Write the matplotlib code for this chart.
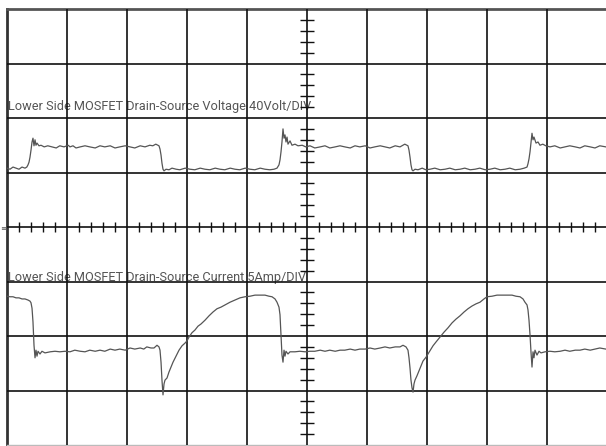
import matplotlib
matplotlib.use('Agg')
import matplotlib.pyplot as plt

# 示波器截图复刻：下管 MOSFET 漏源电压 / 电流波形
# 横轴单位: 格 (0~10)，纵轴单位: 格 (-4~4，中心为 0)

# 电压通道 (40Volt/DIV)
v_t = [0, 0.05, 0.10, 0.15, 0.20, 0.25, 0.30, 0.33,
       0.35, 0.367, 0.383, 0.40, 0.417, 0.433, 0.45, 0.467, 0.483, 0.50, 0.533, 0.567,
       0.62, 0.68, 0.75, 0.82, 0.88, 0.95, 1.02, 1.05, 1.10, 1.15, 1.22, 1.30, 1.38, 1.47,
       1.55, 1.63, 1.72, 1.80, 1.88, 1.97, 2.05, 2.13, 2.22, 2.30, 2.38, 2.43, 2.48,
       2.533, 2.55, 2.567, 2.583, 2.60, 2.617, 2.65,
       2.70, 2.75, 2.82, 2.88, 2.97, 3.05, 3.13, 3.22, 3.30, 3.38, 3.47, 3.55, 3.63, 3.72,
       3.80, 3.88, 3.97, 4.05, 4.13, 4.22, 4.30, 4.38, 4.45, 4.50,
       4.533, 4.55, 4.567, 4.583, 4.60, 4.617, 4.633, 4.65, 4.667, 4.683, 4.717, 4.75, 4.80,
       4.85, 4.92, 4.98, 5.05, 5.13, 5.22, 5.30, 5.38, 5.47, 5.55, 5.63, 5.72, 5.80, 5.88,
       5.97, 6.05, 6.13, 6.22, 6.30, 6.38, 6.47, 6.55, 6.60, 6.63,
       6.683, 6.70, 6.717, 6.733, 6.75, 6.767, 6.80,
       6.85, 6.92, 6.98, 7.05, 7.13, 7.22, 7.30, 7.38, 7.47, 7.55, 7.63, 7.72, 7.80, 7.88,
       7.97, 8.05, 8.13, 8.22, 8.30, 8.38, 8.47, 8.55, 8.62,
       8.667, 8.683, 8.70, 8.717, 8.733, 8.75, 8.767, 8.783, 8.817, 8.85, 8.883,
       8.93, 8.98, 9.05, 9.13, 9.22, 9.30, 9.38, 9.47, 9.55, 9.63, 9.72, 9.80, 9.88, 9.98]
v_div = [1.08, 1.06, 1.10, 1.08, 1.06, 1.10, 1.08, 1.10,
         1.14, 1.19, 1.28, 1.41, 1.56, 1.63, 1.49, 1.60, 1.50, 1.54, 1.49, 1.50,
         1.47, 1.49, 1.47, 1.45, 1.49, 1.47, 1.50, 1.47, 1.49, 1.45, 1.47, 1.49, 1.47, 1.45,
         1.49, 1.47, 1.49, 1.45, 1.47, 1.49, 1.47, 1.45, 1.49, 1.47, 1.50, 1.49, 1.52,
         1.49, 1.43, 1.32, 1.17, 1.06, 1.03, 1.06,
         1.05, 1.08, 1.06, 1.05, 1.08, 1.06, 1.05, 1.08, 1.06, 1.05, 1.08, 1.06, 1.05, 1.08,
         1.06, 1.05, 1.08, 1.06, 1.05, 1.08, 1.06, 1.05, 1.06, 1.08,
         1.14, 1.23, 1.38, 1.56, 1.80, 1.63, 1.69, 1.56, 1.65, 1.52, 1.58, 1.50, 1.52,
         1.49, 1.50, 1.47, 1.49, 1.45, 1.47, 1.49, 1.45, 1.47, 1.49, 1.47, 1.45, 1.49, 1.47,
         1.49, 1.45, 1.47, 1.49, 1.47, 1.45, 1.49, 1.47, 1.50, 1.52,
         1.49, 1.41, 1.28, 1.14, 1.05, 1.03, 1.06,
         1.05, 1.08, 1.05, 1.06, 1.08, 1.05, 1.06, 1.08, 1.05, 1.06, 1.08, 1.05, 1.06, 1.08,
         1.05, 1.06, 1.08, 1.05, 1.06, 1.08, 1.05, 1.06, 1.08,
         1.10, 1.16, 1.25, 1.38, 1.54, 1.72, 1.60, 1.65, 1.54, 1.56, 1.50,
         1.52, 1.49, 1.47, 1.49, 1.45, 1.47, 1.49, 1.47, 1.45, 1.49, 1.47, 1.45, 1.49, 1.47]

# 电流通道 (5Amp/DIV)
i_t = [0, 0.05, 0.10, 0.15, 0.20, 0.25, 0.30, 0.35, 0.383,
       0.40, 0.417, 0.433, 0.45, 0.467, 0.483, 0.50, 0.517, 0.55, 0.583, 0.633,
       0.72, 0.80, 0.88, 0.97, 1.05, 1.13, 1.22, 1.30, 1.38, 1.47, 1.55, 1.63, 1.72, 1.80,
       1.88, 1.97, 2.05, 2.13, 2.22, 2.28, 2.33, 2.40,
       2.45, 2.50, 2.533, 2.55, 2.567, 2.583, 2.60, 2.617, 2.633, 2.667, 2.70, 2.733, 2.767,
       2.817, 2.867, 2.917, 2.967, 3.00, 3.033, 3.083, 3.133, 3.183, 3.233, 3.30, 3.367,
       3.433, 3.50, 3.567, 3.633, 3.717, 3.80, 3.883, 3.967, 4.05, 4.133, 4.217, 4.30,
       4.367, 4.417, 4.467, 4.50, 4.533, 4.55, 4.567, 4.583, 4.60, 4.617, 4.633, 4.65,
       4.683, 4.717,
       4.80, 4.88, 4.97, 5.05, 5.13, 5.22, 5.30, 5.38, 5.47, 5.55, 5.63, 5.72, 5.80, 5.88,
       5.97, 6.05, 6.13, 6.22, 6.30, 6.38, 6.47, 6.55,
       6.60, 6.65, 6.683, 6.70, 6.717, 6.733, 6.75, 6.767, 6.783, 6.80, 6.833, 6.867, 6.90,
       6.933, 6.983, 7.017, 7.067, 7.10, 7.15, 7.217, 7.283, 7.35, 7.417, 7.483, 7.55,
       7.617, 7.683, 7.75, 7.817, 7.883, 7.95, 8.00, 8.083, 8.167, 8.25, 8.333, 8.417,
       8.483, 8.55, 8.60, 8.633, 8.667, 8.683, 8.70, 8.717, 8.733, 8.75, 8.767, 8.783,
       8.80, 8.833, 8.867, 8.90,
       8.967, 9.05, 9.13, 9.22, 9.30, 9.38, 9.47, 9.55, 9.63, 9.72, 9.80, 9.88, 9.98]
i_div = [-1.27, -1.28, -1.28, -1.30, -1.30, -1.32, -1.32, -1.34, -1.36,
         -1.39, -1.49, -1.74, -2.17, -2.40, -2.26, -2.37, -2.28, -2.33, -2.28, -2.31,
         -2.29, -2.28, -2.29, -2.28, -2.29, -2.26, -2.28, -2.29, -2.26, -2.28, -2.26, -2.28,
         -2.24, -2.26, -2.24, -2.26, -2.22, -2.24, -2.22, -2.24, -2.20, -2.22,
         -2.22, -2.17, -2.20, -2.26, -2.48, -2.81, -3.08, -2.88, -2.81, -2.77, -2.66, -2.57,
         -2.48, -2.37, -2.26, -2.18, -2.13, -2.09, -2.02, -1.94, -1.89, -1.82, -1.78, -1.71,
         -1.63, -1.56, -1.50, -1.47, -1.43, -1.38, -1.34, -1.30, -1.28, -1.27, -1.25, -1.25,
         -1.25, -1.27, -1.28, -1.32, -1.38, -1.47, -1.61, -1.98, -2.35, -2.48, -2.26, -2.37,
         -2.28, -2.33, -2.29,
         -2.29, -2.28, -2.29, -2.28, -2.28, -2.26, -2.28, -2.26, -2.28, -2.26, -2.26, -2.24,
         -2.26, -2.24, -2.24, -2.22, -2.24, -2.22, -2.20, -2.22, -2.20, -2.20,
         -2.17, -2.20, -2.26, -2.40, -2.59, -2.81, -2.95, -3.03, -2.88, -2.81, -2.73, -2.64,
         -2.55, -2.46, -2.39, -2.33, -2.24, -2.18, -2.11, -2.02, -1.93, -1.85, -1.76, -1.69,
         -1.63, -1.56, -1.50, -1.45, -1.41, -1.38, -1.32, -1.28, -1.27, -1.25, -1.25, -1.25,
         -1.25, -1.27, -1.28, -1.32, -1.38, -1.43, -1.52, -1.71, -1.98, -2.29, -2.57, -2.29,
         -2.40, -2.26, -2.35, -2.28, -2.31,
         -2.29, -2.28, -2.29, -2.28, -2.26, -2.28, -2.26, -2.26, -2.24, -2.26, -2.24, -2.22,
         -2.24]

v_label = 'Lower Side MOSFET Drain-Source Voltage 40Volt/DIV'
i_label = 'Lower Side MOSFET Drain-Source Current 5Amp/DIV'

fig = plt.figure(figsize=(6.06, 4.46), dpi=100)
ax = fig.add_axes([7/606, 1/446, 600/606, 436/446])
ax.set_xlim(0, 10)
ax.set_ylim(-4, 4)
ax.set_xticks([])
ax.set_yticks([])

# 边框
ax.spines['top'].set_color('#555555')
ax.spines['top'].set_linewidth(2)
ax.spines['left'].set_color('#333333')
ax.spines['left'].set_linewidth(2)
ax.spines['bottom'].set_color('#bbbbbb')
ax.spines['bottom'].set_linewidth(1)
ax.spines['right'].set_visible(False)

# 网格
for gx in range(1, 10):
    ax.axvline(gx, color='#111111', lw=1.2, zorder=3)
for gy in range(-3, 4):
    ax.axhline(gy, color='#111111', lw=1.2, zorder=3)

# 中心刻度
minor_x = [k * 0.2 for k in range(1, 50) if k % 5 != 0]
minor_y = [k * 0.2 for k in range(-19, 20) if k % 5 != 0]
ax.vlines(minor_x, -0.1, 0.1, color='#111111', lw=1.0, zorder=3)
ax.hlines(minor_y, 4.885, 5.115, color='#111111', lw=1.0, zorder=3)

# 标签
ax.text(0.02, 2.15, v_label, fontsize=9.2, color='#555555', va='baseline',
        family='Roboto', zorder=2)
ax.text(0.02, -1.0, i_label, fontsize=9.2, color='#555555', va='baseline',
        family='Roboto', zorder=2)

# 波形
ax.plot(v_t, v_div, color='#555555', lw=0.9, zorder=4)
ax.plot(i_t, i_div, color='#555555', lw=0.9, zorder=4)

fig.text(0.0, 0.482, '≡', fontsize=6, color='#555555')

plt.savefig('out.png', dpi=100)
